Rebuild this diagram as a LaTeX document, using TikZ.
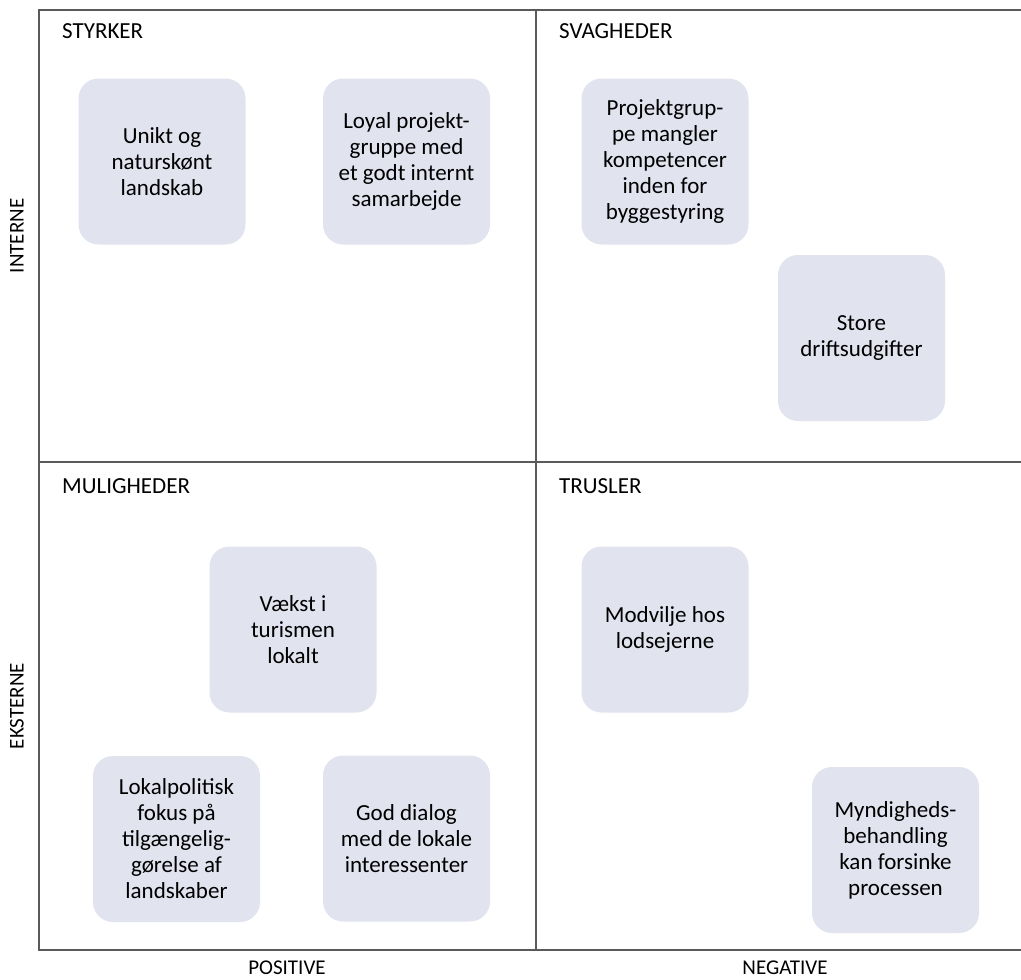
\documentclass[tikz,border=0pt]{standalone}
\usepackage{fontspec}
\setmainfont{Carlito}
\definecolor{cardfill}{HTML}{E1E3EE}
\definecolor{gridline}{HTML}{5A5A5A}
\tikzset{
  card/.style={rounded corners=20pt, fill=cardfill, minimum width=167pt, minimum height=166pt,
    inner sep=0pt, align=center, font=\fontsize{23}{26}\selectfont},
  head/.style={anchor=base west, inner sep=0pt, font=\fontsize{23}{26}\selectfont},
  axis/.style={inner sep=0pt, font=\fontsize{21}{24}\selectfont}
}
\begin{document}
\begin{tikzpicture}[x=1pt, y=-1pt]
    \useasboundingbox (0,0) rectangle (1021,980);
    % frame and quadrants
    \draw[gridline, line width=1.3pt] (1021,10) -- (39,10) -- (39,950) -- (1021,950);
    \draw[gridline, line width=1.3pt] (536,10) -- (536,950);
    \draw[gridline, line width=1.3pt] (39,462) -- (1021,462);
    \node[head] (styrker) at (62,38) {STYRKER};
    \node[head] (svagheder) at (559,38) {SVAGHEDER};
    \node[head] (muligheder) at (62,493) {MULIGHEDER};
    \node[head] (trusler) at (559,493) {TRUSLER};
    \node[axis, rotate=90] (interne) at (17,236) {INTERNE};
    \node[axis, rotate=90] (eksterne) at (17,706) {EKSTERNE};
    \node[axis] (positive) at (287,968) {POSITIVE};
    \node[axis] (negative) at (785,968) {NEGATIVE};
    % cards
    \node[card] (unikt) at (162,161.5) {Unikt og\\naturskønt\\landskab};
    \node[card] (loyal) at (406.5,161.5) {Loyal projekt-\\gruppe med\\et godt internt\\samarbejde};
    \node[card] (projekt) at (665,161.5) {Projektgrup-\\pe mangler\\kompetencer\\inden for\\byggestyring};
    \node[card] (store) at (861.5,338) {Store\\driftsudgifter};
    \node[card] (vaekst) at (293,629.5) {Vækst i\\turismen\\lokalt};
    \node[card] (lokal) at (176.5,839) {Lokalpolitisk\\fokus på\\tilgængelig-\\gørelse af\\landskaber};
    \node[card] (dialog) at (406.5,838.5) {God dialog\\med de lokale\\interessenter};
    \node[card] (modvilje) at (665,629.5) {Modvilje hos\\lodsejerne};
    \node[card] (myndig) at (895.5,850) {Myndigheds-\\behandling\\kan forsinke\\processen};
\end{tikzpicture}
\end{document}
